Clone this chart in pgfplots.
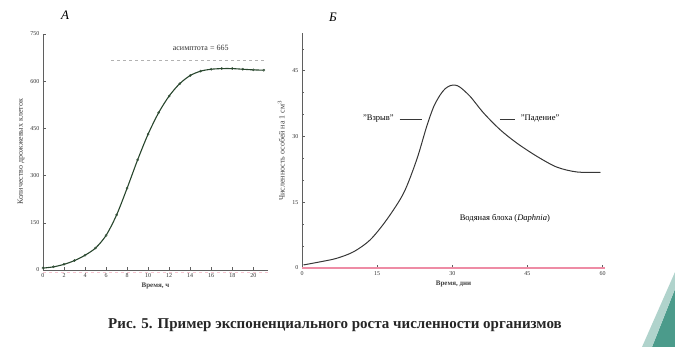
\documentclass[border=0pt]{standalone}
\usepackage{fontspec}
\setmainfont{Liberation Serif}
\usepackage{pgfplots}
\pgfplotsset{compat=1.18}

\definecolor{curveA}{RGB}{40,70,45}
\definecolor{curveB}{RGB}{55,55,55}
\definecolor{axisgrey}{RGB}{95,95,95}
\definecolor{pinkline}{RGB}{238,140,165}
\definecolor{teal1}{RGB}{30,130,110}

% yeast cells (A)
\pgfplotstableread{
t   n
0   6
1   10
2   18
3   30
4   47
5   70
6   110
7   175
8   260
9   350
10  432
11  500
12  553
13  592
14  618
15  632
16  638
17  640
18  640
19  638
20  636
21  635
}\yeast

% daphnia (B)
\pgfplotstableread{
t     n
0.3   0.7
3.6   1.4
6.9   2.2
10.3  3.7
13.6  6.4
16.9  11.0
20.3  17.1
22.9  24.7
24.9  32.3
26.3  36.8
27.6  39.5
28.6  40.9
29.6  41.6
30.6  41.7
31.6  41.2
33.6  39.1
36.3  35.3
39.6  31.5
43.0  28.4
47.0  25.4
50.9  23.0
54.9  21.9
59.6  21.8
}\daphnia

\pgfplotsset{
  smallfig/.style={
    scale only axis,
    axis lines*=left,
    axis line style={axisgrey, line width=0.6pt},
    tick style={axisgrey, line width=0.5pt},
    tick align=inside,
    major tick length=3pt,
    minor tick length=2pt,
    tick label style={font=\fontsize{6}{7}\selectfont, text=black!80},
    xlabel style={font=\fontsize{7}{8}\selectfont\bfseries, text=black!75},
    ylabel style={font=\fontsize{8}{9}\selectfont, text=black!75},
    /pgf/number format/assume math mode=true,
    clip=false,
  }
}

\begin{document}
\begin{tikzpicture}[x=1pt,y=1pt]
\path (0,0) rectangle (675,347);

% ---- A ----
\begin{axis}[smallfig,
  at={(43pt,77pt)}, anchor=south west,
  width=225pt, height=236pt,
  xmin=0, xmax=21.4, ymin=0, ymax=750,
  xtick={0,2,...,20},
  ytick={0,150,300,450,600,750},
  xlabel={Время, ч},
  ylabel={Количество дрожжевых клеток},
  xlabel style={yshift=2pt},
  ylabel style={yshift=-1pt},
]
\addplot[black!30, dashed, line width=1.2pt, forget plot] coordinates {(6.5,665) (21,665)};
\addplot[pinkline!50, dashed, line width=0.6pt, forget plot] coordinates {(0,-8) (21.4,-8)};
\addplot[curveA, line width=1.1pt, smooth, mark=o, mark size=1.1pt,
  mark options={fill=white, line width=0.4pt}] table[x=t, y=n] {\yeast};
\node[font=\fontsize{8}{9}\selectfont, text=black!80, anchor=south] at (axis cs:15,685) {асимптота = 665};
\end{axis}
\node[font=\fontsize{13}{14}\selectfont\itshape] at (65,332) {А};

% ---- B ----
\begin{axis}[smallfig,
  at={(302pt,79pt)}, anchor=south west,
  width=303pt, height=235pt,
  xmin=0, xmax=60.5, ymin=0, ymax=53.6,
  xtick={0,15,30,45,60},
  ytick={0,15,30,45},
  minor ytick={5,10,20,25,35,40,50},
  xlabel={Время, дни},
  ylabel={Численность особей на 1 см$^3$},
  xlabel style={yshift=2pt},
  ylabel style={yshift=1pt},
]
\addplot[pinkline, line width=2.2pt, forget plot] coordinates {(0,0) (60.5,0)};
\addplot[curveB, line width=1pt, smooth] table[x=t, y=n] {\daphnia};
\addplot[curveB, line width=0.5pt, forget plot] coordinates {(19.5,34) (24,34)};
\addplot[curveB, line width=0.5pt, forget plot] coordinates {(39.5,34) (42.5,34)};
\node[font=\fontsize{8.5}{9}\selectfont, anchor=east] at (axis cs:19,34) {"Взрыв"};
\node[font=\fontsize{8.5}{9}\selectfont, anchor=west] at (axis cs:43,34) {"Падение"};
\node[font=\fontsize{8.5}{9}\selectfont] at (axis cs:40.5,11.3) {Водяная блоха (\textit{Daphnia})};
\end{axis}
\node[font=\fontsize{13}{14}\selectfont\itshape] at (333,330) {Б};

% caption
\node[font=\fontsize{15}{17}\selectfont\bfseries, text=black!85] at (335,22)
  {Рис. 5. Пример экспоненциального роста численности организмов};

% corner decoration of the slide
\fill[teal1!80] (652,0) -- (675,0) -- (675,58) -- cycle;
\fill[teal1!35] (642,0) -- (652,0) -- (675,58) -- (675,75) -- cycle;
\end{tikzpicture}
\end{document}
